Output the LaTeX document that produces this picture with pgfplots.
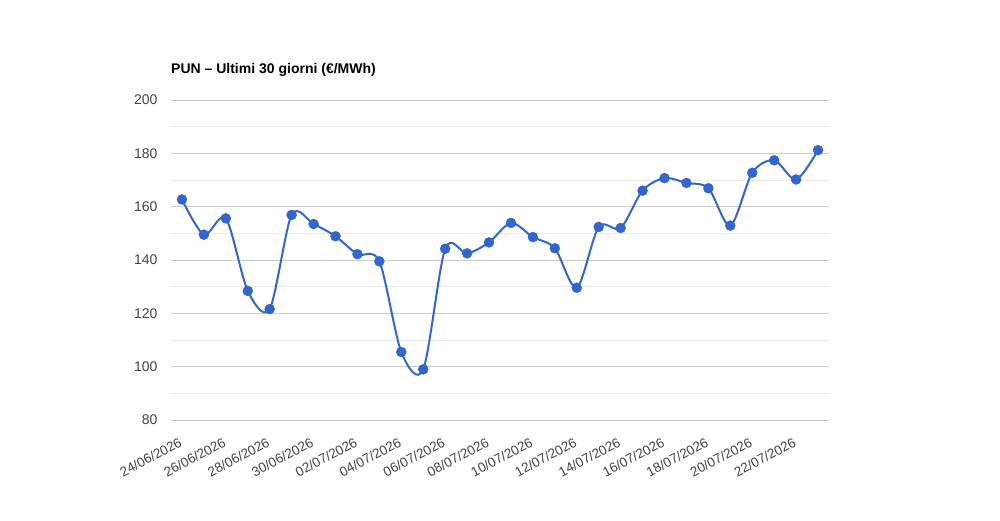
\documentclass[border=0pt]{standalone}
\usepackage{fontspec}
\setmainfont{Liberation Sans}
\usepackage{pgfplots}
\pgfplotsset{compat=1.18}
\definecolor{serie}{HTML}{3366CC}
\definecolor{gridmaj}{HTML}{CCCCCC}
\definecolor{gridmin}{HTML}{EBEBEB}
\definecolor{labc}{HTML}{444444}
\begin{document}
\begin{tikzpicture}[x=1pt,y=1pt]
\path[use as bounding box] (0,0) rectangle (1000,520);
\node[anchor=base west, font=\fontsize{14}{16}\selectfont\bfseries, inner sep=0pt] at (171,446) {PUN – Ultimi 30 giorni (€/MWh)};
\begin{axis}[
  at={(171pt,100pt)}, anchor=south west,
  scale only axis, width=658pt, height=320pt,
  xmin=-0.5, xmax=29.5, ymin=80, ymax=200,
  ytick={80,100,...,200}, minor y tick num=1,
  ymajorgrids, yminorgrids,
  major grid style={color=gridmaj, line width=1pt},
  minor grid style={color=gridmin, line width=1pt},
  axis line style={draw=none}, tick style={draw=none},
  /pgf/number format/assume math mode=true,
  yticklabel style={font=\fontsize{14}{16}\selectfont, text=labc, xshift=-10pt},
  xtick={0,2,...,28},
  xticklabels={24/06/2026,26/06/2026,28/06/2026,30/06/2026,02/07/2026,04/07/2026,06/07/2026,08/07/2026,10/07/2026,12/07/2026,14/07/2026,16/07/2026,18/07/2026,20/07/2026,22/07/2026},
  xticklabel style={font=\fontsize{13.5}{16}\selectfont, text=labc, rotate=28, anchor=north east, inner sep=1pt, yshift=-12pt, xshift=-10pt},
  clip=false,
]
\addplot[color=serie, line width=2pt, smooth, tension=0.5, mark=*, mark size=5pt, mark options={fill=serie, draw=serie, line width=0.4pt, solid}] coordinates {
(0,162.7) (1,149.5) (2,155.6) (3,128.4) (4,121.6) (5,156.9) (6,153.5) (7,148.9) (8,142.2) (9,139.5)
(10,105.5) (11,99.0) (12,144.2) (13,142.5) (14,146.6) (15,153.9) (16,148.6) (17,144.4) (18,129.6) (19,152.4)
(20,152.0) (21,166.0) (22,170.7) (23,168.9) (24,166.9) (25,152.9) (26,172.7) (27,177.4) (28,170.2) (29,181.2)
};
\end{axis}
\end{tikzpicture}
\end{document}
